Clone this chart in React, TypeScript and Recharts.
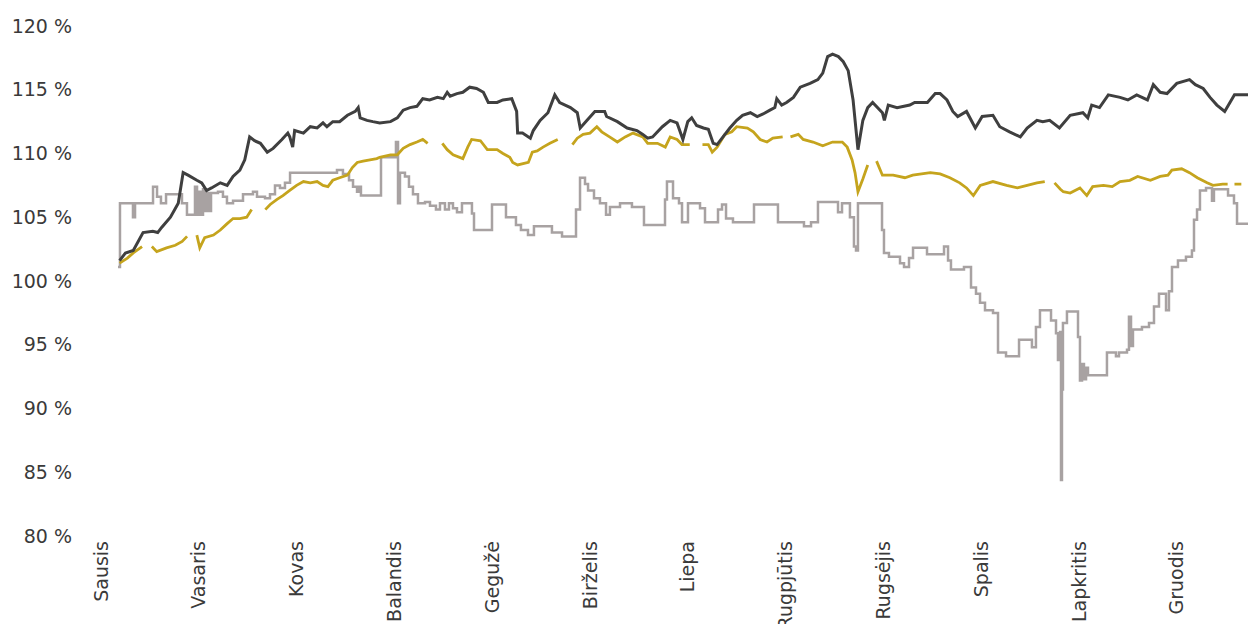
import { LineChart, Line, XAxis, YAxis } from "recharts";

// month labels, one tick per month (uniform spacing)
const months = [
  "Sausis", "Vasaris", "Kovas", "Balandis", "Gegužė", "Birželis",
  "Liepa", "Rugpjūtis", "Rugsėjis", "Spalis", "Lapkritis", "Gruodis",
];
const monthTicks = months.map((_, i) => i);
const yTicks = [80, 85, 90, 95, 100, 105, 110, 115, 120];

// [position in months, value in %]
const seriesDark: [number, number][] = [
  [0.19, 101.6], [0.25, 102.2], [0.33, 102.4], [0.43, 103.8], [0.53, 103.9], [0.58, 103.8],
  [0.62, 104.2], [0.71, 105.0], [0.79, 106.1], [0.84, 108.5], [0.89, 108.3], [0.98, 107.9],
  [1.03, 107.7], [1.08, 107.1], [1.13, 107.3], [1.22, 107.7], [1.29, 107.5], [1.35, 108.2],
  [1.42, 108.7], [1.47, 109.5], [1.52, 111.3], [1.57, 111.0], [1.63, 110.8], [1.70, 110.1],
  [1.76, 110.4], [1.85, 111.1], [1.91, 111.6], [1.93, 111.3], [1.96, 110.5], [1.98, 111.8],
  [2.07, 111.6], [2.14, 112.1], [2.21, 112.0], [2.27, 112.4], [2.31, 112.1], [2.37, 112.5],
  [2.44, 112.5], [2.52, 113.0], [2.60, 113.3], [2.63, 113.6], [2.65, 112.8], [2.72, 112.6],
  [2.78, 112.5], [2.85, 112.4], [2.96, 112.5], [3.03, 112.8], [3.09, 113.4], [3.16, 113.6],
  [3.23, 113.7], [3.26, 114.0], [3.29, 114.3], [3.36, 114.2], [3.44, 114.4], [3.50, 114.3],
  [3.54, 114.8], [3.57, 114.5], [3.64, 114.7], [3.70, 114.8], [3.77, 115.2], [3.84, 115.1],
  [3.91, 114.8], [3.96, 114.0], [4.05, 114.0], [4.11, 114.2], [4.20, 114.3], [4.25, 113.3],
  [4.26, 111.6], [4.31, 111.6], [4.39, 111.2], [4.42, 111.8], [4.49, 112.6], [4.57, 113.2],
  [4.64, 114.6], [4.69, 114.0], [4.80, 113.6], [4.87, 113.2], [4.90, 112.0], [4.97, 112.6],
  [5.05, 113.3], [5.15, 113.3], [5.17, 112.9], [5.28, 112.5], [5.38, 112.0], [5.48, 111.8],
  [5.54, 111.5], [5.59, 111.2], [5.64, 111.3], [5.74, 112.1], [5.82, 112.6], [5.89, 112.4],
  [5.95, 111.1], [6.00, 112.5], [6.04, 112.8], [6.09, 112.2], [6.16, 112.0], [6.21, 111.9],
  [6.26, 110.8], [6.30, 110.7], [6.36, 111.3], [6.43, 112.0], [6.50, 112.6], [6.56, 113.0],
  [6.64, 113.2], [6.71, 112.9], [6.77, 113.1], [6.84, 113.4], [6.89, 113.6], [6.91, 114.3],
  [6.96, 113.8], [7.01, 114.0], [7.08, 114.4], [7.15, 115.2], [7.25, 115.5], [7.33, 115.8],
  [7.38, 116.3], [7.43, 117.6], [7.48, 117.8], [7.54, 117.6], [7.59, 117.2], [7.64, 116.5],
  [7.69, 114.2], [7.74, 110.3], [7.79, 112.6], [7.84, 113.6], [7.89, 114.0], [7.99, 113.2],
  [8.01, 112.6], [8.05, 113.8], [8.14, 113.6], [8.27, 113.8], [8.32, 114.0], [8.45, 114.0],
  [8.53, 114.7], [8.58, 114.7], [8.65, 114.2], [8.71, 113.3], [8.76, 112.9], [8.85, 113.3],
  [8.94, 112.0], [9.01, 112.9], [9.12, 113.0], [9.19, 112.1], [9.29, 111.7], [9.40, 111.3],
  [9.47, 112.0], [9.57, 112.6], [9.63, 112.5], [9.70, 112.6], [9.80, 112.0], [9.91, 113.0],
  [10.04, 113.2], [10.09, 112.8], [10.13, 113.8], [10.21, 113.6], [10.30, 114.6], [10.42, 114.4],
  [10.50, 114.2], [10.59, 114.6], [10.70, 114.2], [10.76, 115.4], [10.83, 114.8], [10.90, 114.7],
  [11.00, 115.5], [11.13, 115.8], [11.19, 115.4], [11.27, 115.1], [11.34, 114.4], [11.41, 113.8],
  [11.49, 113.3], [11.59, 114.6], [11.81, 114.6],
];

// gaps (null) break the line into pieces
const seriesGold: [number, number | null][] = [
  [0.19, 101.4], [0.27, 101.8], [0.33, 102.2], [0.42, 102.7], [0.46, null],
  [0.52, 102.7], [0.57, 102.3], [0.67, 102.6], [0.76, 102.8], [0.83, 103.1], [0.88, 103.5], [0.92, null],
  [0.98, 103.6], [1.01, 102.6], [1.06, 103.4], [1.15, 103.6], [1.22, 104.0], [1.29, 104.5],
  [1.35, 104.9], [1.42, 104.9], [1.49, 105.0], [1.54, 105.6], [1.59, null],
  [1.68, 105.6], [1.73, 106.0], [1.80, 106.4], [1.86, 106.7], [1.93, 107.1], [2.00, 107.5],
  [2.07, 107.8], [2.14, 107.7], [2.21, 107.8], [2.27, 107.5], [2.32, 107.4], [2.37, 107.9],
  [2.44, 108.1], [2.52, 108.3], [2.57, 108.9], [2.62, 109.3], [2.68, 109.4], [2.75, 109.5],
  [2.82, 109.6], [2.85, 109.7], [2.96, 109.9], [3.03, 109.9], [3.09, 110.4], [3.16, 110.7],
  [3.23, 110.9], [3.29, 111.1], [3.34, 110.8], [3.41, null],
  [3.49, 110.8], [3.54, 110.3], [3.60, 109.9], [3.70, 109.6], [3.75, 110.5], [3.79, 111.1],
  [3.88, 111.0], [3.95, 110.3], [4.05, 110.3], [4.11, 110.0], [4.18, 109.7], [4.21, 109.3],
  [4.26, 109.1], [4.37, 109.3], [4.41, 110.1], [4.46, 110.2], [4.52, 110.5], [4.59, 110.8],
  [4.67, 111.1], [4.74, null],
  [4.82, 110.7], [4.87, 111.2], [4.93, 111.5], [5.00, 111.6], [5.07, 112.1], [5.12, 111.7],
  [5.20, 111.3], [5.28, 110.9], [5.36, 111.3], [5.44, 111.6], [5.54, 111.3], [5.59, 110.8],
  [5.69, 110.8], [5.77, 110.5], [5.82, 111.3], [5.89, 111.1], [5.94, 110.7], [6.02, 110.7], [6.08, null],
  [6.15, 110.7], [6.21, 110.7], [6.25, 110.1], [6.30, 110.5], [6.38, 111.5], [6.45, 111.7],
  [6.50, 112.1], [6.61, 112.0], [6.67, 111.7], [6.74, 111.1], [6.81, 110.9], [6.87, 111.2],
  [6.97, 111.3], [7.02, null],
  [7.05, 111.3], [7.13, 111.5], [7.18, 111.1], [7.28, 110.9], [7.38, 110.6], [7.48, 110.9],
  [7.58, 110.9], [7.63, 110.5], [7.68, 109.5], [7.71, 108.5], [7.74, 107.0], [7.79, 108.0],
  [7.84, 109.1], [7.88, null],
  [7.93, 109.4], [7.99, 108.3], [8.10, 108.3], [8.22, 108.1], [8.30, 108.3], [8.48, 108.5],
  [8.58, 108.4], [8.68, 108.1], [8.78, 107.7], [8.85, 107.3], [8.92, 106.7], [8.99, 107.5],
  [9.12, 107.8], [9.26, 107.5], [9.37, 107.3], [9.47, 107.5], [9.57, 107.7], [9.65, 107.8], [9.70, null],
  [9.75, 107.7], [9.81, 107.2], [9.84, 107.0], [9.91, 106.9], [10.01, 107.3], [10.08, 106.7],
  [10.14, 107.4], [10.25, 107.5], [10.34, 107.4], [10.42, 107.8], [10.52, 107.9], [10.60, 108.2],
  [10.73, 107.9], [10.83, 108.2], [10.91, 108.3], [10.95, 108.7], [11.05, 108.8], [11.13, 108.5],
  [11.21, 108.1], [11.31, 107.7], [11.37, 107.5], [11.47, 107.6], [11.52, 107.6], [11.56, null],
  [11.59, 107.6], [11.66, 107.6], [11.70, null],
  [11.77, 107.7], [11.81, 107.7],
];

// step series: value holds from its position until the next one
const seriesGrey: [number, number][] = [
  [0.174, 101.1], [0.194, 106.1], [0.327, 105.0], [0.348, 106.1], [0.532, 107.4], [0.573, 106.6],
  [0.613, 106.1], [0.665, 106.8], [0.828, 106.1], [0.879, 105.2], [0.961, 107.4], [0.982, 105.2],
  [1.002, 107.0], [1.022, 105.2], [1.043, 107.2], [1.063, 105.5], [1.084, 106.9], [1.104, 105.5],
  [1.125, 106.9], [1.196, 107.0], [1.247, 106.6], [1.288, 106.1], [1.350, 106.3], [1.452, 106.8],
  [1.554, 107.0], [1.595, 106.6], [1.677, 106.5], [1.728, 106.8], [1.779, 107.5], [1.830, 107.3],
  [1.881, 107.7], [1.933, 108.5], [2.413, 108.7], [2.474, 108.4], [2.536, 107.9], [2.577, 107.4],
  [2.618, 107.0], [2.638, 107.4], [2.658, 106.7], [2.863, 109.7], [3.016, 110.9], [3.037, 106.1],
  [3.057, 108.5], [3.108, 108.2], [3.149, 107.4], [3.190, 106.8], [3.241, 106.1], [3.313, 106.2],
  [3.364, 105.9], [3.425, 105.6], [3.466, 106.1], [3.517, 105.6], [3.558, 106.1], [3.599, 105.7],
  [3.640, 105.4], [3.691, 106.1], [3.793, 105.3], [3.814, 104.0], [3.998, 106.0], [4.141, 105.0],
  [4.243, 104.4], [4.294, 104.0], [4.366, 103.6], [4.427, 104.3], [4.611, 103.8], [4.714, 103.5],
  [4.857, 105.6], [4.898, 108.1], [4.949, 107.6], [4.980, 107.1], [5.041, 106.5], [5.102, 106.1],
  [5.164, 105.2], [5.204, 105.8], [5.307, 106.1], [5.429, 105.8], [5.552, 104.4], [5.767, 106.4],
  [5.787, 107.8], [5.849, 106.5], [5.910, 106.1], [5.941, 104.6], [6.002, 106.1], [6.125, 105.7],
  [6.176, 104.6], [6.309, 105.6], [6.350, 106.0], [6.391, 104.9], [6.462, 104.6], [6.677, 106.0],
  [6.922, 104.6], [7.188, 104.3], [7.260, 104.6], [7.331, 106.2], [7.536, 105.4], [7.577, 106.1],
  [7.658, 105.0], [7.699, 102.7], [7.720, 102.4], [7.740, 106.1], [7.986, 104.0], [8.006, 102.2],
  [8.057, 101.9], [8.170, 101.4], [8.211, 101.1], [8.262, 101.8], [8.303, 102.6], [8.446, 102.1],
  [8.620, 102.7], [8.661, 101.6], [8.691, 100.9], [8.824, 101.1], [8.896, 99.5], [8.947, 99.0],
  [8.988, 98.3], [9.039, 97.7], [9.121, 97.5], [9.172, 94.4], [9.254, 94.1], [9.387, 95.4],
  [9.519, 94.8], [9.560, 96.4], [9.601, 97.7], [9.714, 96.9], [9.765, 95.9], [9.785, 93.8],
  [9.806, 96.0], [9.816, 84.4], [9.826, 91.5], [9.836, 96.7], [9.877, 97.6], [9.990, 95.6],
  [10.010, 92.2], [10.031, 93.5], [10.051, 92.3], [10.072, 93.2], [10.092, 92.6], [10.286, 94.4],
  [10.378, 94.1], [10.409, 94.4], [10.491, 94.6], [10.511, 97.2], [10.532, 94.9], [10.552, 96.2],
  [10.644, 96.4], [10.716, 96.7], [10.767, 98.0], [10.818, 99.0], [10.890, 97.7], [10.920, 99.2],
  [10.951, 101.1], [11.012, 101.6], [11.094, 101.9], [11.155, 102.4], [11.176, 104.8], [11.207, 105.6],
  [11.237, 107.1], [11.299, 107.3], [11.360, 106.3], [11.380, 107.2], [11.524, 106.7], [11.585, 106.1],
  [11.616, 104.5], [11.748, 104.8], [11.800, 107.3], [11.81, 107.3],
];

const toRows = (pts: [number, number | null][]) => pts.map(([m, v]) => ({ m, v }));

const textColor = "#3a3a3a";
const fontFamily = "'DejaVu Sans', sans-serif";

function MonthTick({ x, payload }: any) {
  return (
    <text
      transform={`translate(${x},541) rotate(-90)`}
      textAnchor="end"
      dy="0.35em"
      fontSize={19}
      fill={textColor}
      fontFamily={fontFamily}
    >
      {months[payload.value]}
    </text>
  );
}

function PercentTick({ y, payload }: any) {
  return (
    <text x={72} y={y} textAnchor="end" dy="0.35em" fontSize={19} fill={textColor} fontFamily={fontFamily}>
      {payload.value} %
    </text>
  );
}

export default function App() {
  return (
    <div style={{ margin: -8, width: 1256, height: 632, overflow: "hidden", background: "#fff" }}>
      <LineChart width={1256} height={632} margin={{ top: 26, right: 0, bottom: 0, left: 0 }}>
        <XAxis
          type="number"
          dataKey="m"
          domain={[0, 11.81]}
          ticks={monthTicks}
          tick={<MonthTick />}
          axisLine={false}
          tickLine={false}
          height={96}
          interval={0}
          allowDataOverflow
        />
        <YAxis
          type="number"
          domain={[80, 120]}
          ticks={yTicks}
          tick={<PercentTick />}
          axisLine={false}
          tickLine={false}
          width={101}
          interval={0}
        />
        <Line
          data={toRows(seriesGrey)}
          dataKey="v"
          type="stepAfter"
          stroke="#a8a2a2"
          strokeWidth={2.5}
          dot={false}
          isAnimationActive={false}
        />
        <Line
          data={toRows(seriesGold)}
          dataKey="v"
          type="linear"
          stroke="#c5a41d"
          strokeWidth={2.8}
          dot={false}
          connectNulls={false}
          isAnimationActive={false}
        />
        <Line
          data={toRows(seriesDark)}
          dataKey="v"
          type="linear"
          stroke="#3f3f3f"
          strokeWidth={3}
          dot={false}
          isAnimationActive={false}
        />
      </LineChart>
    </div>
  );
}
